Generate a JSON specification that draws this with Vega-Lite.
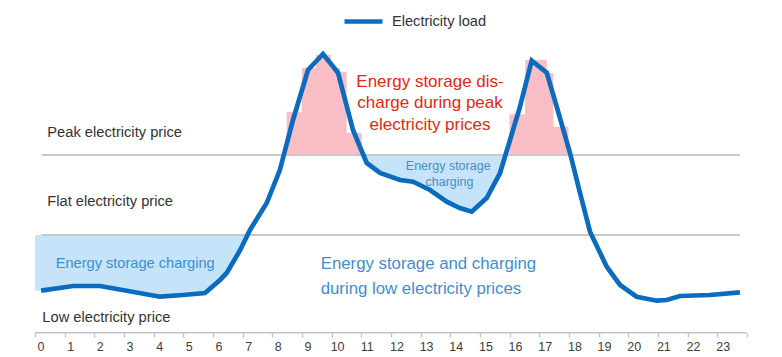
{
  "$schema": "https://vega.github.io/schema/vega-lite/v6.json",
  "width": 782,
  "height": 333,
  "autosize": {"type": "none"},
  "padding": {"left": 0, "top": 0, "right": 0, "bottom": 24},
  "background": "white",
  "config": {"view": {"stroke": null}, "font": "Liberation Sans"},
  "datasets": {
    "load": [
      {"hour": 0.02, "load": 39.3}, {"hour": 1.106, "load": 44}, {"hour": 2.006, "load": 44},
      {"hour": 2.906, "load": 39.3}, {"hour": 4.029, "load": 33.3}, {"hour": 4.804, "load": 35},
      {"hour": 5.546, "load": 37}, {"hour": 6.052, "load": 50}, {"hour": 6.278, "load": 57},
      {"hour": 6.733, "load": 80}, {"hour": 6.98, "load": 95}, {"hour": 7.063, "load": 100},
      {"hour": 7.627, "load": 127}, {"hour": 8.07, "load": 160}, {"hour": 8.513, "load": 210},
      {"hour": 9.019, "load": 260}, {"hour": 9.525, "load": 276}, {"hour": 10.03, "load": 257.3},
      {"hour": 10.536, "load": 200}, {"hour": 10.886, "load": 175}, {"hour": 10.998, "load": 167},
      {"hour": 11.447, "load": 157}, {"hour": 12.121, "load": 150}, {"hour": 12.56, "load": 148.3},
      {"hour": 13.133, "load": 140}, {"hour": 13.695, "load": 128.3}, {"hour": 14.14, "load": 122},
      {"hour": 14.538, "load": 118.3}, {"hour": 15.044, "load": 132}, {"hour": 15.493, "load": 157},
      {"hour": 15.677, "load": 175}, {"hour": 15.762, "load": 183.3}, {"hour": 16.167, "load": 223.3},
      {"hour": 16.561, "load": 269.3}, {"hour": 17.067, "load": 257.3}, {"hour": 17.404, "load": 223.3},
      {"hour": 17.853, "load": 177}, {"hour": 18.19, "load": 137}, {"hour": 18.527, "load": 98.3},
      {"hour": 19.09, "load": 63.3}, {"hour": 19.54, "load": 45}, {"hour": 20.1, "load": 33.3},
      {"hour": 20.78, "load": 29.3}, {"hour": 21.11, "load": 30}, {"hour": 21.56, "load": 34},
      {"hour": 22.57, "load": 35}, {"hour": 23.58, "load": 37.7}
    ],
    "charging": [
      {"zone": "low", "hour": -0.185, "load": 39.3, "top": 95},
      {"zone": "low", "hour": 0.02, "load": 39.3, "top": 95},
      {"zone": "low", "hour": 1.106, "load": 44, "top": 95},
      {"zone": "low", "hour": 2.006, "load": 44, "top": 95},
      {"zone": "low", "hour": 2.906, "load": 39.3, "top": 95},
      {"zone": "low", "hour": 4.029, "load": 33.3, "top": 95},
      {"zone": "low", "hour": 4.804, "load": 35, "top": 95},
      {"zone": "low", "hour": 5.546, "load": 37, "top": 95},
      {"zone": "low", "hour": 6.052, "load": 50, "top": 95},
      {"zone": "low", "hour": 6.278, "load": 57, "top": 95},
      {"zone": "low", "hour": 6.733, "load": 80, "top": 95},
      {"zone": "low", "hour": 6.98, "load": 95, "top": 95},
      {"zone": "mid", "hour": 10.886, "load": 175, "top": 175},
      {"zone": "mid", "hour": 10.998, "load": 167, "top": 175},
      {"zone": "mid", "hour": 11.447, "load": 157, "top": 175},
      {"zone": "mid", "hour": 12.121, "load": 150, "top": 175},
      {"zone": "mid", "hour": 12.56, "load": 148.3, "top": 175},
      {"zone": "mid", "hour": 13.133, "load": 140, "top": 175},
      {"zone": "mid", "hour": 13.695, "load": 128.3, "top": 175},
      {"zone": "mid", "hour": 14.14, "load": 122, "top": 175},
      {"zone": "mid", "hour": 14.538, "load": 118.3, "top": 175},
      {"zone": "mid", "hour": 15.044, "load": 132, "top": 175},
      {"zone": "mid", "hour": 15.493, "load": 157, "top": 175},
      {"zone": "mid", "hour": 15.677, "load": 175, "top": 175}
    ],
    "discharge": [
      {"peak": "morning", "hour": 8.30, "load": 218.3, "base": 175},
      {"peak": "morning", "hour": 8.81, "load": 262, "base": 175},
      {"peak": "morning", "hour": 9.29, "load": 275, "base": 175},
      {"peak": "morning", "hour": 9.79, "load": 262, "base": 175},
      {"peak": "morning", "hour": 10.10, "load": 258, "base": 175},
      {"peak": "morning", "hour": 10.32, "load": 197, "base": 175},
      {"peak": "morning", "hour": 10.83, "load": 197, "base": 175},
      {"peak": "evening", "hour": 15.81, "load": 215.7, "base": 175},
      {"peak": "evening", "hour": 16.34, "load": 270, "base": 175},
      {"peak": "evening", "hour": 17.07, "load": 257, "base": 175},
      {"peak": "evening", "hour": 17.29, "load": 203.3, "base": 175},
      {"peak": "evening", "hour": 17.80, "load": 203.3, "base": 175}
    ],
    "bands": [
      {"hour": 0.04, "hour2": 23.58, "load": 175, "kind": "threshold"},
      {"hour": 0.04, "hour2": 23.58, "load": 95, "kind": "threshold"},
      {"hour": -0.185, "hour2": 23.81, "load": -2.7, "kind": "axis"}
    ],
    "labels": [
      {"hour": 0.229, "load": 192.7, "text": "Peak electricity price", "kind": "dark"},
      {"hour": 0.229, "load": 124.3, "text": "Flat electricity price", "kind": "dark"},
      {"hour": 0.061, "load": 8, "text": "Low electricity price", "kind": "dark"},
      {"hour": 0.512, "load": 61.7, "text": "Energy storage charging", "kind": "lowcharge"},
      {"hour": 13.132, "load": 243.3, "text": "Energy storage dis-", "kind": "red"},
      {"hour": 13.132, "load": 221.7, "text": "charge during peak", "kind": "red"},
      {"hour": 13.132, "load": 200.2, "text": "electricity prices", "kind": "red"},
      {"hour": 9.447, "load": 60.7, "text": "Energy storage and charging", "kind": "blue"},
      {"hour": 9.447, "load": 36, "text": "during low electricity prices", "kind": "blue"},
      {"hour": 13.746, "load": 160, "text": "Energy storage", "kind": "midcharge"},
      {"hour": 13.79, "load": 144.3, "text": "charging", "kind": "midcharge"}
    ]
  },
  "encoding": {
    "x": {
      "field": "hour", "type": "quantitative",
      "scale": {"domain": [-1.3655, 25.0], "nice": false, "zero": false},
      "axis": {
        "values": [0,1,2,3,4,5,6,7,8,9,10,11,12,13,14,15,16,17,18,19,20,21,22,23,24],
        "title": null, "domain": false, "grid": false,
        "tickSize": 4, "tickColor": "#c4c4c4", "tickWidth": 1.5,
        "tickOffset": -5.5, "labelOffset": 5.5,
        "labelExpr": "datum.value > 23 ? '' : datum.label",
        "labelFont": "Liberation Sans", "labelFontSize": 12.5, "labelColor": "#404040",
        "labelPadding": 3, "labelFlush": false, "labelOverlap": false
      }
    },
    "y": {
      "field": "load", "type": "quantitative",
      "scale": {"domain": [-3, 330], "nice": false, "zero": false},
      "axis": null
    }
  },
  "layer": [
    {
      "data": {"name": "charging"},
      "mark": {"type": "area", "color": "#c5e3f9", "opacity": 1},
      "encoding": {
        "y2": {"field": "top"},
        "detail": {"field": "zone", "type": "nominal"}
      }
    },
    {
      "data": {"name": "discharge"},
      "mark": {"type": "area", "color": "#f9bec5", "opacity": 1, "interpolate": "step-after"},
      "encoding": {
        "y2": {"field": "base"},
        "detail": {"field": "peak", "type": "nominal"}
      }
    },
    {
      "data": {"name": "bands"},
      "transform": [{"filter": "datum.kind == 'threshold'"}],
      "mark": {"type": "rule", "color": "#c8c8c8", "strokeWidth": 2},
      "encoding": {"x2": {"field": "hour2"}}
    },
    {
      "data": {"name": "bands"},
      "transform": [{"filter": "datum.kind == 'axis'"}],
      "mark": {"type": "rule", "color": "#c4c4c4", "strokeWidth": 1.5},
      "encoding": {"x2": {"field": "hour2"}}
    },
    {
      "data": {"name": "labels"},
      "transform": [{"filter": "datum.kind == 'dark'"}],
      "mark": {"type": "text", "align": "left", "baseline": "alphabetic", "fontSize": 14.7, "color": "#333333", "font": "Liberation Sans"},
      "encoding": {"text": {"field": "text"}}
    },
    {
      "data": {"name": "labels"},
      "transform": [{"filter": "datum.kind == 'lowcharge'"}],
      "mark": {"type": "text", "align": "left", "baseline": "alphabetic", "fontSize": 14.6, "color": "#3f8ed1", "font": "Liberation Sans"},
      "encoding": {"text": {"field": "text"}}
    },
    {
      "data": {"name": "labels"},
      "transform": [{"filter": "datum.kind == 'red'"}],
      "mark": {"type": "text", "align": "center", "baseline": "alphabetic", "fontSize": 17, "color": "#e8270e", "font": "Liberation Sans"},
      "encoding": {"text": {"field": "text"}}
    },
    {
      "data": {"name": "labels"},
      "transform": [{"filter": "datum.kind == 'blue'"}],
      "mark": {"type": "text", "align": "left", "baseline": "alphabetic", "fontSize": 16.8, "color": "#3f8ed1", "font": "Liberation Sans"},
      "encoding": {"text": {"field": "text"}}
    },
    {
      "data": {"name": "labels"},
      "transform": [{"filter": "datum.kind == 'midcharge'"}],
      "mark": {"type": "text", "align": "center", "baseline": "alphabetic", "fontSize": 12.5, "color": "#4a8ccc", "font": "Liberation Sans"},
      "encoding": {"text": {"field": "text"}}
    },
    {
      "data": {"name": "load"},
      "mark": {"type": "line", "strokeWidth": 4.7, "strokeJoin": "miter"},
      "encoding": {
        "color": {
          "datum": "Electricity load", "type": "nominal",
          "scale": {"range": ["#0b6cbf"]},
          "legend": {
            "orient": "none", "legendX": 342, "legendY": 0, "title": null, "padding": 0,
            "symbolType": "stroke", "symbolSize": 1444, "symbolStrokeWidth": 4.7,
            "labelFont": "Liberation Sans", "labelFontSize": 14.6, "labelColor": "#333333", "labelOffset": 7
          }
        }
      }
    }
  ]
}
